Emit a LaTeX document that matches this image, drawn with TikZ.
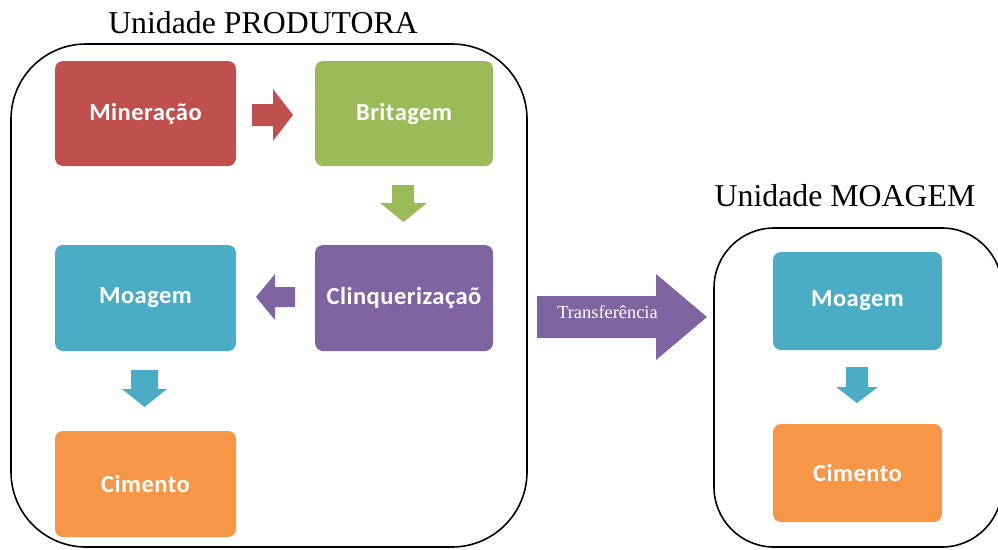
\documentclass[tikz,border=0pt]{standalone}
\usepackage{fontspec}
\setmainfont{Liberation Serif}
\newfontfamily\stagefont[LetterSpace=2]{Carlito}
\definecolor{stRed}{HTML}{C0504D}
\definecolor{stGreen}{HTML}{9BBB59}
\definecolor{stPurple}{HTML}{8064A2}
\definecolor{stBlue}{HTML}{4BACC6}
\definecolor{stOrange}{HTML}{F79646}
\tikzset{
  stagebox/.style={rectangle, rounded corners=8pt, inner sep=0pt,
    minimum width=181pt, minimum height=105pt, text=white,
    font=\stagefont\bfseries\fontsize{24.5}{25}\selectfont},
  unitframe/.style={draw=black, line width=1.6pt},
  unittitle/.style={anchor=base, font=\fontsize{31.8}{32}\selectfont}
}
\begin{document}
\begin{tikzpicture}[x=1pt,y=-1pt]
\useasboundingbox (0,0) rectangle (998,549);
\clip (0,0) rectangle (998,549);

% plant units
\draw[unitframe, rounded corners=75pt] (11,44) rectangle (527,547);
\draw[unitframe, rounded corners=60pt] (714,228) rectangle (1002,547);
\node[unittitle] (tprod) at (263,33) {Unidade PRODUTORA};
\node[unittitle] (tmoag) at (845,206) {Unidade MOAGEM};

% process stages, producing unit
\node[stagebox, fill=stRed] (miner) at (145.5,113.5) {Mineração};
\node[stagebox, fill=stGreen, minimum width=178pt] (brit) at (404,113.5) {Britagem};
\node[stagebox, fill=stPurple, minimum width=178pt, minimum height=106pt] (clinq) at (404,298) {Clinquerizaçaõ};
\node[stagebox, fill=stBlue, minimum height=106pt] (moag) at (145.5,298) {Moagem};
\node[stagebox, fill=stOrange, minimum height=106pt] (cim) at (145.5,484) {Cimento};

% process stages, grinding unit
\node[stagebox, fill=stBlue, minimum width=169pt, minimum height=98pt] (moag2) at (857.5,301) {Moagem};
\node[stagebox, fill=stOrange, minimum width=169pt, minimum height=98pt] (cim2) at (857.5,473) {Cimento};

% block arrows between stages
\fill[stRed] (252,104) -- (273,104) -- (273,89) -- (293,115) -- (273,141) -- (273,126) -- (252,126) -- cycle;
\fill[stGreen] (392,185) -- (414,185) -- (414,203) -- (427,203) -- (403.5,222) -- (380,203) -- (392,203) -- cycle;
\fill[stPurple] (295,287) -- (275,287) -- (275,274) -- (256,297) -- (275,320) -- (275,307) -- (295,307) -- cycle;
\fill[stBlue] (131,370) -- (158,370) -- (158,389) -- (167,389) -- (144.5,407) -- (122,389) -- (131,389) -- cycle;
\fill[stBlue] (846,367) -- (868,367) -- (868,387) -- (878,387) -- (857,403) -- (836,387) -- (846,387) -- cycle;

% transfer arrow between the units
\fill[stPurple] (537,296) -- (656,296) -- (656,274) -- (707,317) -- (656,360) -- (656,338) -- (537,338) -- cycle;
\node[anchor=base, text=white, font=\fontsize{18.4}{19}\selectfont, inner sep=0pt] (transf) at (607.5,318) {Transferência};
\end{tikzpicture}
\end{document}
